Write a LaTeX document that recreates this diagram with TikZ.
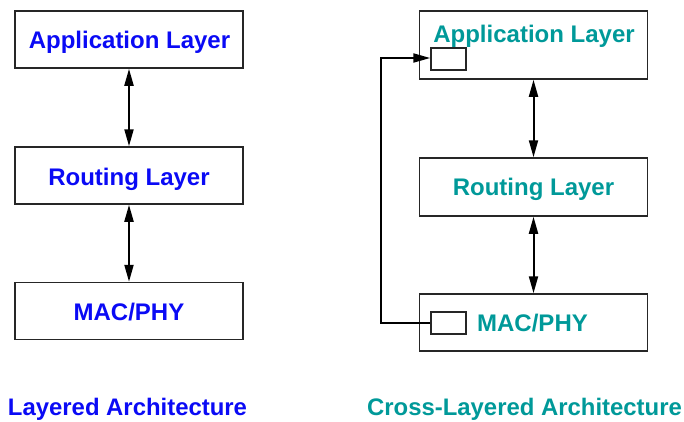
\documentclass[tikz,border=0pt]{standalone}
\usepackage{fontspec}
\setmainfont{Liberation Sans}
\usetikzlibrary{arrows.meta}
\definecolor{layerblue}{RGB}{10,10,245}
\definecolor{layerteal}{RGB}{0,153,153}
\tikzset{
  layerbox/.style={draw=black!85, line width=1.5pt, minimum width=228pt, inner sep=0pt},
  tinybox/.style={draw=black!85, line width=1.5pt, minimum width=35pt, minimum height=22pt, inner sep=0pt},
  bluetxt/.style={text=layerblue, font=\fontsize{24}{28}\selectfont\bfseries, anchor=base, inner sep=0pt},
  tealtxt/.style={text=layerteal, font=\fontsize{24}{28}\selectfont\bfseries, anchor=base, inner sep=0pt},
  captxt/.style={font=\fontsize{23.9}{28}\selectfont\bfseries, anchor=base, inner sep=0pt},
  link/.style={line width=2pt, {Triangle[length=17pt,width=9pt]}-{Triangle[length=17pt,width=9pt]}},
  feed/.style={line width=2pt, -{Triangle[length=17pt,width=9pt]}}
}
\begin{document}
\begin{tikzpicture}[x=1pt, y=-1pt]
  \useasboundingbox (0,0) rectangle (684,421);

  % layered stack
  \node[layerbox, minimum height=57pt] (la) at (129,39.5) {};
  \node[layerbox, minimum height=57pt] (lr) at (129,175.5) {};
  \node[layerbox, minimum height=57pt] (lm) at (129,311) {};
  \node[bluetxt] (lat) at (129.5,48) {Application Layer};
  \node[bluetxt] (lrt) at (129,185.5) {Routing Layer};
  \node[bluetxt] (lmt) at (129,320.5) {MAC/PHY};
  \draw[link] (la.south) -- (lr.north);
  \draw[link] (lr.south) -- (lm.north);

  % cross-layered stack
  \node[layerbox, minimum height=68pt] (ra) at (533.5,45) {};
  \node[layerbox, minimum height=58pt] (rr) at (533.5,187) {};
  \node[layerbox, minimum height=57pt] (rm) at (533.5,322.5) {};
  \node[tealtxt] (rat) at (534,42) {Application Layer};
  \node[tealtxt] (rrt) at (533.5,195.5) {Routing Layer};
  \node[tealtxt] (rmt) at (532.5,331.5) {MAC/PHY};
  \node[tinybox] (sa) at (448.5,59) {};
  \node[tinybox] (sm) at (448.5,323) {};
  \draw[link] (ra.south) -- (rr.north);
  \draw[link] (rr.south) -- (rm.north);
  \coordinate (cb) at (381,323);
  \coordinate (ct) at (381,58);
  \draw[feed] (sm.west) -- (cb) -- (ct) -- (sa.west |- ct);

  % captions
  \node[captxt, text=layerblue] (cl) at (127.5,415.5) {Layered Architecture};
  \node[captxt, text=layerteal] (cc) at (524.5,415.5) {Cross-Layered Architecture};
\end{tikzpicture}
\end{document}
